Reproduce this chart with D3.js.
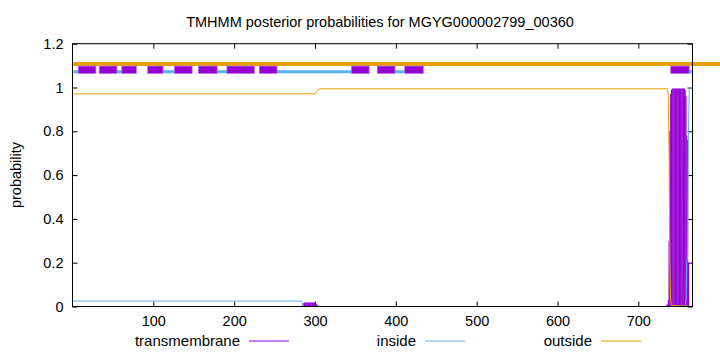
<!DOCTYPE html>
<html><head><meta charset="utf-8">
<script src="https://cdn.jsdelivr.net/npm/d3@7"></script>
<style>
html,body{margin:0;padding:0;background:#fff;}
svg text{font-family:"Liberation Sans",Arial,sans-serif;fill:#000;}
</style></head>
<body><svg id="chart" width="720" height="352"></svg>
<script>
const title = "TMHMM posterior probabilities for MGYG000002799_00360";
const xDomain = [1, 767];
const yDomain = [0, 1.2];
const xTicks = [100, 200, 300, 400, 500, 600, 700];
const yTicks = [0, 0.2, 0.4, 0.6, 0.8, 1, 1.2];
const yTickLabels = ["0", "0.2", "0.4", "0.6", "0.8", "1", "1.2"];
const seriesNames = ["transmembrane", "inside", "outside"];
const seriesColors = ["#9400d3", "#56b4e9", "#e69f00"];

// outside probability (breakpoints)
const outsidePos = [1, 300, 302, 304, 306, 736, 737, 738, 739, 740, 741, 767];
const outsideVal = [0.971, 0.971, 0.978, 0.99, 0.994, 0.994, 0.97, 0.7, 0.2, 0.03, 0.005, 0];
// inside probability (breakpoints)
const insidePos = [1, 283, 284, 285, 286, 757, 758, 759, 760, 761, 762, 763, 767];
const insideVal = [0.025, 0.025, 0.02, 0.01, 0, 0, 0.01, 0.03, 0.2, 0.24, 0.8, 1, 1];
// transmembrane probability (non-zero residues)
const tmPos = [285, 286, 287, 288, 289, 290, 291, 292, 293, 294, 295, 296, 297, 298, 299, 300, 301, 302, 303, 304,
  735, 736, 737, 738, 739, 740, 741, 742, 743, 744, 745, 746, 747, 748, 749, 750, 751, 752, 753, 754, 755, 756, 757,
  758, 759, 760, 761, 762];
const tmVal = [0.01, 0.015, 0.018, 0.018, 0.018, 0.018, 0.018, 0.018, 0.018, 0.018, 0.018, 0.018, 0.018, 0.018, 0.018, 0.018, 0.015, 0.01, 0.006, 0.003,
  0.005, 0.01, 0.03, 0.3, 0.8, 0.97, 0.99, 0.995, 0.995, 0.995, 0.995, 0.995, 0.995, 0.995, 0.995, 0.995, 0.995, 0.995, 0.995, 0.995, 0.995, 0.995, 0.995,
  0.99, 0.96, 0.78, 0.76, 0.2];

// predicted topology strip at top
const topOutside = [[1, 801]];
const topOutsideLevel = 1.107;
const topInside = [[1, 7], [55, 61], [112, 126], [179, 191], [253, 345], [399, 411], [763, 767]];
const topInsideLevel = 1.072;
const topTM = [[7, 29], [33, 55], [61, 79], [93, 112], [126, 148], [156, 179], [191, 225], [231, 253],
  [345, 367], [377, 399], [411, 434], [740, 763]];
const topTMRange = [1.064, 1.098];

const svg = d3.select("#chart");
const m = {left: 72.5, right: 692.5, top: 43.7, bottom: 306.5};
const x = d3.scaleLinear().domain(xDomain).range([m.left + 0.8, m.right]);
const y = d3.scaleLinear().domain(yDomain).range([m.bottom, m.top]);

// title
svg.append("text").attr("x", 380).attr("y", 27).attr("text-anchor", "middle")
  .style("font-size", "14.5px").text(title);
// y label
svg.append("text").attr("transform", "translate(21,175) rotate(-90)").attr("text-anchor", "middle")
  .style("font-size", "14.5px").text("probability");

// axes
const xAxis = d3.axisBottom(x).tickValues(xTicks).tickSize(-5).tickPadding(9).tickFormat(d3.format("d"));
const gx = svg.append("g").attr("transform", `translate(0,${m.bottom})`).call(xAxis);
gx.select(".domain").remove();
gx.selectAll("line").attr("stroke", "#000");
gx.selectAll("text").style("font-size", "14.5px").attr("dy", "0.71em");
const gxt = svg.append("g").attr("transform", `translate(0,${m.top})`)
  .call(d3.axisTop(x).tickValues(xTicks).tickSize(-5).tickFormat(""));
gxt.select(".domain").remove();

const yAxis = d3.axisLeft(y).tickValues(yTicks).tickSize(-5).tickPadding(9)
  .tickFormat((d, i) => yTickLabels[i]);
const gy = svg.append("g").attr("transform", `translate(${m.left},0)`).call(yAxis);
gy.select(".domain").remove();
gy.selectAll("text").style("font-size", "14.5px");
const gyr = svg.append("g").attr("transform", `translate(${m.right},0)`)
  .call(d3.axisRight(y).tickValues(yTicks).tickSize(-5).tickFormat(""));
gyr.select(".domain").remove();

// TM impulses
const tmData = tmPos.map((p, i) => ({p, v: tmVal[i]}));
svg.append("g").selectAll("line").data(tmData).join("line")
  .attr("x1", d => x(d.p)).attr("x2", d => x(d.p))
  .attr("y1", y(0)).attr("y2", d => y(d.v))
  .attr("stroke", seriesColors[0]).attr("stroke-width", 1.1);

const line = d3.line().x(d => x(d[0])).y(d => y(d[1]));
svg.append("path").datum(insidePos.map((p, i) => [p, insideVal[i]]))
  .attr("d", line).attr("fill", "none").attr("stroke", seriesColors[1]).attr("stroke-width", 1);
svg.append("path").datum(outsidePos.map((p, i) => [p, outsideVal[i]]))
  .attr("d", line).attr("fill", "none").attr("stroke", seriesColors[2]).attr("stroke-width", 1);

// top strip
svg.append("g").selectAll("line").data(topOutside).join("line")
  .attr("x1", d => x(d[0])).attr("x2", d => x(d[1]))
  .attr("y1", y(topOutsideLevel)).attr("y2", y(topOutsideLevel))
  .attr("stroke", seriesColors[2]).attr("stroke-width", 4);
svg.append("g").selectAll("line").data(topInside).join("line")
  .attr("x1", d => x(d[0])).attr("x2", d => x(d[1]))
  .attr("y1", y(topInsideLevel)).attr("y2", y(topInsideLevel))
  .attr("stroke", seriesColors[1]).attr("stroke-width", 3);
svg.append("g").selectAll("rect").data(topTM).join("rect")
  .attr("x", d => x(d[0])).attr("width", d => x(d[1]) - x(d[0]))
  .attr("y", y(topTMRange[1])).attr("height", y(topTMRange[0]) - y(topTMRange[1]))
  .attr("fill", seriesColors[0]).attr("stroke", "#c070f0").attr("stroke-width", 0.8);

// border
svg.append("rect").attr("x", m.left).attr("y", m.top).attr("width", m.right - m.left)
  .attr("height", m.bottom - m.top).attr("fill", "none").attr("stroke", "#000").attr("stroke-width", 1);

// legend
const legX = [240, 416, 592];
seriesNames.forEach((n, i) => {
  svg.append("text").attr("x", legX[i]).attr("y", 346).attr("text-anchor", "end")
    .style("font-size", "15px").text(n);
  svg.append("line").attr("x1", legX[i] + 9).attr("x2", legX[i] + 49)
    .attr("y1", 341).attr("y2", 341).attr("stroke", seriesColors[i]).attr("stroke-width", 1);
});
</script></body></html>
